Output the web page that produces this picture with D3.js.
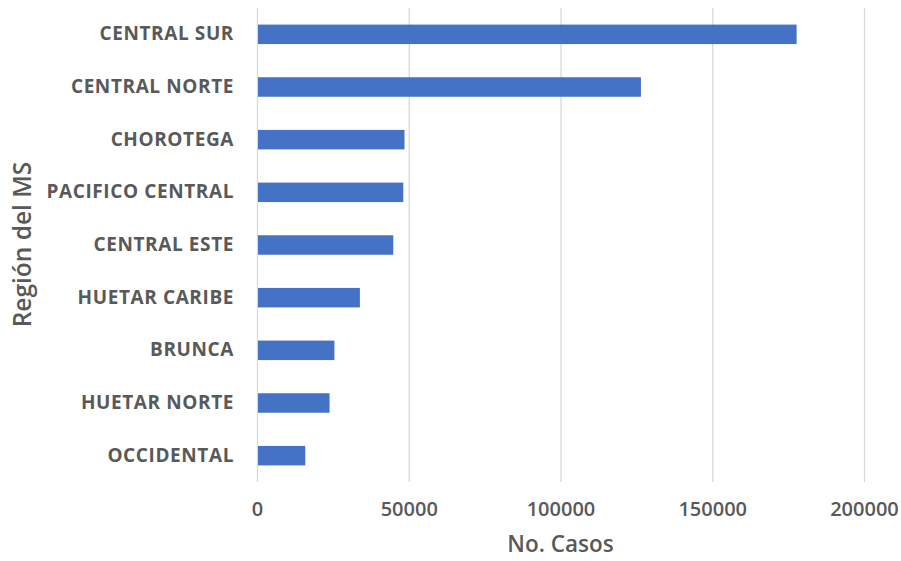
<!DOCTYPE html>
<html>
<head>
<meta charset="utf-8">
<script src="https://d3js.org/d3.v7.min.js"></script>
<style>
    body { margin: 0; background: #fff; }
    text { font-family: "Open Sans", sans-serif; fill: #595959; }
</style>
</head>
<body>
<svg id="chart" width="901" height="561"></svg>
<script>
    // data
    var regions = ["CENTRAL SUR", "CENTRAL NORTE", "CHOROTEGA", "PACIFICO CENTRAL", "CENTRAL ESTE",
        "HUETAR CARIBE", "BRUNCA", "HUETAR NORTE", "OCCIDENTAL"];
    var casos = [177800, 126500, 48600, 48200, 44900, 33900, 25500, 23900, 15900];
    var xTicks = [0, 50000, 100000, 150000, 200000];

    var margin = { top: 8, right: 37, bottom: 79, left: 257 },
        width = 901 - margin.left - margin.right,
        height = 561 - margin.top - margin.bottom;

    var svg = d3.select("#chart")
        .append("g")
        .attr("transform", "translate(" + margin.left + "," + margin.top + ")");

    var x = d3.scaleLinear().domain([0, 200000]).range([0, width]);
    var y = d3.scaleBand().domain(regions).range([0, height]).paddingInner(0.63).paddingOuter(0.315);

    // gridlines
    svg.append("g")
        .selectAll("line")
        .data(xTicks)
        .enter()
        .append("line")
        .attr("x1", d => x(d) + 0.5)
        .attr("x2", d => x(d) + 0.5)
        .attr("y1", 0)
        .attr("y2", height)
        .attr("stroke", "#d9d9d9")
        .attr("stroke-width", 1.3);

    // x tick labels
    var xAxis = svg.append("g")
        .attr("transform", "translate(0," + height + ")")
        .call(d3.axisBottom(x).tickValues(xTicks).tickSize(0).tickPadding(20).tickFormat(d3.format("d")));
    xAxis.select(".domain").remove();
    xAxis.selectAll("text")
        .style("font-family", "'Open Sans', sans-serif")
        .style("font-size", "20px")
        .style("font-weight", 600)
        .attr("fill", "#595959");

    // category labels
    var yAxis = svg.append("g")
        .call(d3.axisLeft(y).tickSize(0).tickPadding(23));
    yAxis.select(".domain").remove();
    yAxis.selectAll("text")
        .style("font-family", "'Open Sans', sans-serif")
        .style("font-size", "19px")
        .style("font-weight", "bold")
        .style("letter-spacing", "0.6px")
        .attr("fill", "#595959");

    // bars
    svg.append("g")
        .selectAll("rect")
        .data(regions)
        .enter()
        .append("rect")
        .attr("x", x(0) + 1)
        .attr("y", d => y(d))
        .attr("width", (d, i) => x(casos[i]) - x(0) - 1)
        .attr("height", y.bandwidth())
        .attr("fill", "#4472c4");

    // axis titles
    svg.append("text")
        .attr("x", x(100000))
        .attr("y", height + 70)
        .attr("text-anchor", "middle")
        .style("font-size", "22.5px")
        .style("font-weight", 600)
        .text("No. Casos");

    svg.append("text")
        .attr("transform", "translate(" + (-margin.left + 31) + "," + 236.5 + ") rotate(-90)")
        .attr("text-anchor", "middle")
        .style("font-size", "24.5px")
        .style("font-weight", 600)
        .text("Región del MS");
</script>
</body>
</html>
